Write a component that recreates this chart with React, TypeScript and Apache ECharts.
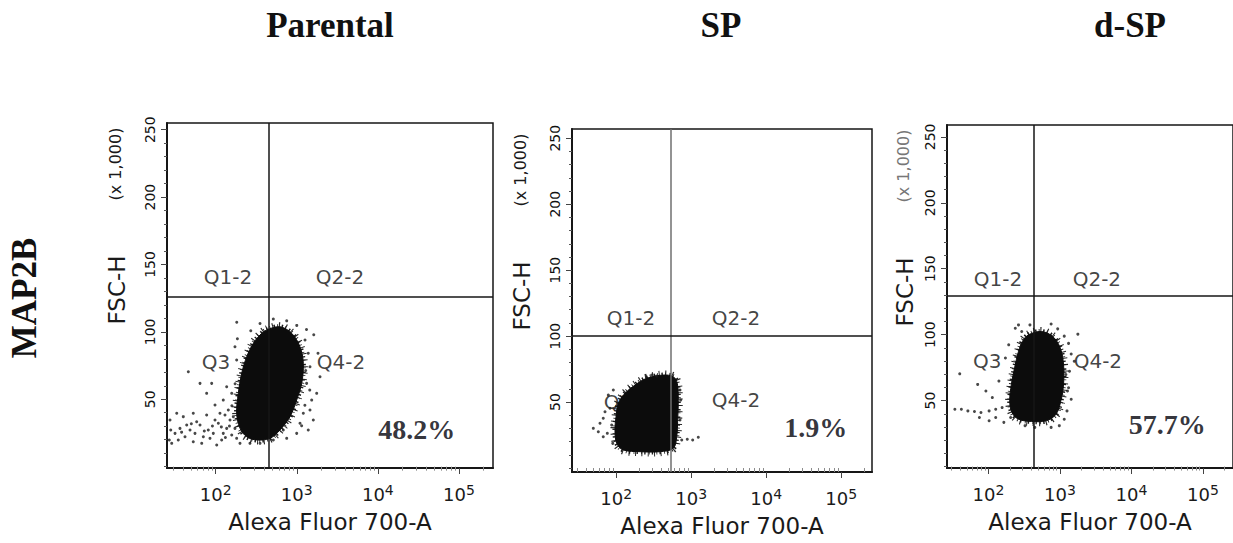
import React, { useEffect, useRef } from 'react';
import * as echarts from 'echarts';

// ---------- texts ----------
const panelTitles = ['Parental', 'SP', 'd-SP'];
const rowLabel = 'MAP2B';
const xAxisTitle = 'Alexa Fluor 700-A';
const yAxisTitle = 'FSC-H';
const yAxisUnit = '(x 1,000)';
const percentLabels = ['48.2%', '1.9%', '57.7%'];

// ---------- axes (x in log10 units of Alexa Fluor 700-A, y = FSC-H x 1,000) ----------
const xDecadeTicks = [2, 3, 4, 5];
const yMajorTicks = [50, 100, 150, 200, 250];
const yMinorTicks = [0, 10, 20, 30, 40, 60, 70, 80, 90, 110, 120, 130, 140, 160, 170, 180, 190, 210, 220, 230, 240];
const xRanges = [[1.4, 5.42], [1.41, 5.41], [1.42, 5.42]];
const yRanges = [[-1, 255], [-3, 257], [-1.1, 259]];

// ---------- gates ----------
const gateX = [2.645, 2.73, 2.639];
const gateY = [125.9, 100, 129.7];

// ---------- quadrant label positions ----------
const quadrantP1 = [
  { name: 'Q1-2', value: [2.152, 140.7] },
  { name: 'Q2-2', value: [3.533, 140.7] },
  { name: 'Q3', value: [2.004, 77.6] },
  { name: 'Q4-2', value: [3.545, 77.6] },
];
const quadrantP2 = [
  { name: 'Q1-2', value: [2.197, 113.7] },
  { name: 'Q2-2', value: [3.597, 113.7] },
  { name: 'Q3', value: [2.023, 50] },
  { name: 'Q4-2', value: [3.597, 51.5] },
];
const quadrantP3 = [
  { name: 'Q1-2', value: [2.132, 142.5] },
  { name: 'Q2-2', value: [3.516, 142.5] },
  { name: 'Q3', value: [1.982, 80] },
  { name: 'Q4-2', value: [3.53, 80] },
];
const percentPos = [[4.48, 27.2], [4.66, 31.1], [4.5, 32]];

// ---------- dense population outlines ----------
const blobP1 = [
  [2.63, 101.4], [2.793, 103.8], [2.938, 98.9], [3.04, 89], [3.081, 76.7], [3.061, 61.8],
  [2.999, 49.4], [2.917, 37.1], [2.793, 27.2], [2.67, 21], [2.506, 19.8], [2.383, 22.2],
  [2.3, 28.5], [2.259, 39.6], [2.279, 54.4], [2.321, 69.3], [2.383, 81.6], [2.464, 91.5], [2.547, 97.7],
];
const blobP2 = [
  [2.406, 68], [2.627, 70.5], [2.761, 69.2], [2.814, 64.2], [2.827, 51.5], [2.819, 36.4],
  [2.806, 23.7], [2.761, 15], [2.583, 12.4], [2.317, 12.4], [2.094, 13.7], [2.006, 18.7],
  [1.983, 28.8], [1.997, 38.9], [2.027, 49], [2.117, 56.6], [2.25, 62.9],
];
const blobP3 = [
  [2.557, 99.8], [2.739, 102.4], [2.899, 98.6], [3.005, 89.8], [3.05, 77.3], [3.05, 62.3],
  [3.013, 49.8], [2.945, 39.7], [2.808, 34.7], [2.602, 34.2], [2.42, 35.9], [2.328, 41],
  [2.297, 49.8], [2.32, 62.3], [2.365, 74.8], [2.42, 87.4], [2.475, 94.9],
];

// ---------- sparse events ----------
const dotsP1 = [
  [1.437, 34.6], [1.446, 27.2], [1.428, 19.8], [1.499, 24.7], [1.56, 28.4], [1.622, 22.2], [1.684, 27.2],
  [1.745, 24.7], [1.807, 30.9], [1.848, 22.2], [1.909, 27.2], [1.971, 24.7], [2.033, 32.2], [2.074, 19.8],
  [2.136, 28.4], [2.198, 23.5], [2.218, 37.1], [2.156, 42], [2.053, 39.6], [1.992, 45.7], [1.889, 54.4],
  [1.951, 61.8], [1.807, 61.8], [1.663, 70.4], [1.724, 39.6], [1.601, 37.1], [1.52, 39.6], [1.828, 17.3],
  [2.013, 16.1], [2.3, 17.3], [2.423, 17.3], [2.547, 17.3], [2.711, 19.8], [2.876, 21], [3.04, 32.2],
  [3.163, 42], [3.246, 54.4], [3.287, 66.7], [3.262, 84.1], [3.21, 97.9], [3.12, 101.8], [3.0, 104.8],
  [2.876, 108.2], [2.711, 109.5], [2.547, 106.2], [2.433, 100.8], [2.26, 107.2], [2.268, 94.9], [2.238, 89],
  [2.259, 79.1], [3.163, 74.1], [3.204, 34.6], [2.834, 27.2], [3.102, 94], [3.142, 84.1], [3.122, 61.8],
  [3.184, 49.4], [3.081, 39.6], [3.142, 27.2], [2.999, 24.7], [2.136, 59.3], [2.094, 49.4], [2.198, 54.4],
  [1.643, 30.9], [1.766, 33.3], [1.93, 21], [2.094, 24.7], [2.238, 28.4], [2.177, 34.6], [2.115, 38.3],
  [1.992, 34.6], [1.889, 38.3], [2.259, 21], [1.458, 17.3], [1.539, 19.8], [1.724, 18.5],
  [2.2, 45.2], [2.17, 30.1], [2.07, 29.5], [1.96, 30.2], [1.86, 26.4], [1.7, 31.8], [1.58, 25.6],
  [2.12, 21.6], [2.24, 61.5], [3.11, 71.3], [3.16, 56.8], [3.1, 45.6], [3.06, 30.4],
];
const dotsP2 = [
  [1.694, 30.1], [1.783, 33.9], [1.827, 37.7], [1.881, 26.3], [1.917, 45.3], [1.894, 55.3], [1.761, 27.5],
  [1.953, 18.7], [1.961, 59.1], [2.873, 21.2], [2.947, 21.8], [3.019, 21.2], [3.094, 23.3], [2.85, 36.4],
  [2.859, 51.5], [2.85, 59.1], [2.473, 70.5], [2.539, 69.7], [1.827, 23.7], [1.939, 32.6], [1.85, 42.7],
];
const dotsP3 = [
  [1.53, 43.5], [1.621, 43.5], [1.712, 42.2], [1.804, 41.7], [1.895, 41], [2.009, 42.2], [2.101, 43.5],
  [2.191, 44.7], [1.598, 70.3], [1.849, 62.3], [1.964, 57.3], [2.054, 52.3], [2.101, 37.2], [2.215, 33.5],
  [1.873, 37.2], [2.009, 34.7], [2.146, 64.8], [2.237, 82.3], [2.283, 92.3], [2.375, 104.9], [2.42, 107.4],
  [2.876, 108.1], [2.968, 104.4], [3.06, 98.9], [3.12, 93.4], [3.157, 85.4], [3.133, 72.3], [3.12, 59.8],
  [3.157, 51], [3.098, 42.2], [3.06, 35.9], [2.991, 31], [2.876, 29.7], [2.648, 29.7], [3.2, 79.8],
  [3.25, 100.4], [2.465, 102.4], [2.58, 107.4], [3.083, 69.8], [3.105, 57.3], [2.31, 37.2], [2.512, 31],
];

const quadrants = [quadrantP1, quadrantP2, quadrantP3];
const blobs = [blobP1, blobP2, blobP3];
const dots = [dotsP1, dotsP2, dotsP3];

// ---------- layout ----------
const GRIDS = [
  { left: 167, top: 123, width: 326, height: 345 },
  { left: 572, top: 129, width: 300, height: 343 },
  { left: 947, top: 125, width: 292, height: 343 },
];
const TITLE_X = [330, 721, 1130];
const SANS = 'DejaVu Sans';
const SERIF = 'Liberation Serif';
const INK = '#161616';

function minorLogTicks(min: number, max: number) {
  const out: number[] = [];
  for (let n = 1; n <= 5; n++) {
    for (let k = 2; k <= 9; k++) {
      const v = n + Math.log10(k);
      if (v > min && v < max) out.push(v);
    }
  }
  return out;
}

function buildOption() {
  const grid: any[] = [];
  const xAxis: any[] = [];
  const yAxis: any[] = [];
  const series: any[] = [];
  const graphic: any[] = [];

  for (let i = 0; i < 3; i++) {
    const g = GRIDS[i];
    grid.push({ ...g, show: true, borderColor: INK, borderWidth: 1.5, backgroundColor: 'transparent' });
    const [xmin, xmax] = xRanges[i];
    const [ymin, ymax] = yRanges[i];
    xAxis.push({
      gridIndex: i, type: 'value', position: 'bottom', min: xmin, max: xmax,
      axisLine: { show: true, onZero: false, lineStyle: { color: INK, width: 2 } },
      axisTick: { show: true, customValues: xDecadeTicks, length: 6, lineStyle: { color: '#444', width: 1 } },
      axisLabel: {
        show: true, customValues: xDecadeTicks, margin: 15,
        formatter: (v: number) => `{b|10}{s|${Math.round(v)}}`,
        rich: {
          b: { fontSize: 18, lineHeight: 22, fontFamily: SANS, color: '#1a1a1a' },
          s: { fontSize: 14, lineHeight: 8, verticalAlign: 'top', fontFamily: SANS, color: '#1a1a1a' },
        },
      },
      splitLine: { show: false },
      name: xAxisTitle, nameLocation: 'middle', nameGap: 42,
      nameTextStyle: { fontSize: 23, fontFamily: SANS, color: '#1a1a1a' },
    });
    xAxis.push({
      gridIndex: i, type: 'value', position: 'bottom', min: xmin, max: xmax,
      axisLine: { show: false },
      axisTick: { show: true, customValues: minorLogTicks(xmin, xmax), length: 4, lineStyle: { color: '#8a8a8a', width: 1 } },
      axisLabel: { show: false }, splitLine: { show: false },
    });
    yAxis.push({
      gridIndex: i, type: 'value', position: 'left', min: ymin, max: ymax,
      axisLine: { show: true, onZero: false, lineStyle: { color: INK, width: 2 } },
      axisTick: { show: true, customValues: yMajorTicks, length: 6, lineStyle: { color: '#444', width: 1 } },
      axisLabel: { show: true, customValues: yMajorTicks, rotate: 90, margin: 10, fontSize: 14, fontFamily: SANS, color: '#111' },
      splitLine: { show: false },
    });
    yAxis.push({
      gridIndex: i, type: 'value', position: 'left', min: ymin, max: ymax,
      axisLine: { show: false },
      axisTick: { show: true, customValues: yMinorTicks, length: 3, lineStyle: { color: '#555', width: 1 } },
      axisLabel: { show: false }, splitLine: { show: false },
    });

    const xi = i * 2;
    const yi = i * 2;
    // quadrant names + gates
    series.push({
      type: 'scatter', xAxisIndex: xi, yAxisIndex: yi, z: 1, silent: true,
      symbolSize: 0,
      data: quadrants[i],
      label: {
        show: true, position: [0, 0], align: 'center', verticalAlign: 'middle',
        formatter: '{b}', fontSize: 20, fontFamily: SANS, color: '#111',
      },
      markLine: {
        silent: true, symbol: 'none', label: { show: false },
        data: [
          { xAxis: gateX[i], lineStyle: { color: i === 1 ? '#6f6f6f' : INK, width: 1.5, type: 'solid' } },
          { yAxis: gateY[i], lineStyle: { color: INK, width: 1.5, type: 'solid' } },
        ],
      },
    });
    // dense population
    const blob = blobs[i];
    series.push({
      type: 'custom', xAxisIndex: xi, yAxisIndex: yi, z: 2, silent: true, clip: true,
      encode: { x: 0, y: 1 },
      data: blob,
      renderItem: (params: any, api: any) => {
        if (params.dataIndex !== 0) return null;
        const pts = blob.map((p) => api.coord(p));
        return {
          type: 'group',
          children: [
            {
              type: 'polygon',
              shape: { points: pts, smooth: 0.35 },
              style: { fill: 'none', stroke: '#2a2a2a', lineWidth: 9, lineDash: [1, 5.3] },
            },
            {
              type: 'polygon',
              shape: { points: pts, smooth: 0.35 },
              style: { fill: 'none', stroke: '#1a1a1a', lineWidth: 5, lineDash: [1.4, 2.1, 0.8, 3.3] },
            },
            {
              type: 'polygon',
              shape: { points: pts, smooth: 0.35 },
              style: { fill: '#0c0c0c', stroke: '#0c0c0c', lineWidth: 1 },
            },
          ],
        };
      },
    });
    // sparse events
    series.push({
      type: 'scatter', xAxisIndex: xi, yAxisIndex: yi, z: 3, silent: true,
      symbol: 'circle', symbolSize: 3,
      itemStyle: { color: '#1a1a1a' },
      data: dots[i],
    });
    // percentage
    series.push({
      type: 'scatter', xAxisIndex: xi, yAxisIndex: yi, z: 4, silent: true,
      symbolSize: 0,
      data: [{ name: percentLabels[i], value: percentPos[i] }],
      label: {
        show: true, position: [0, 0], align: 'center', verticalAlign: 'middle',
        formatter: '{b}', fontSize: 28, fontWeight: 'bold', fontFamily: SERIF, color: '#000008',
      },
    });

    // titles & y axis name
    graphic.push({
      type: 'text', x: TITLE_X[i], y: 25, silent: true,
      style: { text: panelTitles[i], font: `bold 35px "${SERIF}"`, fill: '#111', align: 'center', verticalAlign: 'middle' },
    });
    graphic.push({
      type: 'text', x: g.left - (i === 2 ? 42 : 50), y: g.top + 167, rotation: Math.PI / 2, silent: true,
      style: { text: yAxisTitle, font: `23px "${SANS}"`, fill: '#1a1a1a', align: 'center', verticalAlign: 'middle' },
    });
    graphic.push({
      type: 'text', x: g.left - (i === 2 ? 44 : 52), y: g.top + 41, rotation: Math.PI / 2, silent: true,
      style: { text: yAxisUnit, font: `16px "${SANS}"`, fill: i === 2 ? '#777' : '#1a1a1a', align: 'center', verticalAlign: 'middle' },
    });
  }

  graphic.push({
    type: 'text', x: 24, y: 298, rotation: Math.PI / 2, silent: true,
    style: { text: rowLabel, font: `bold 35px "${SERIF}"`, fill: '#111', align: 'center', verticalAlign: 'middle' },
  });

  return {
    animation: false,
    backgroundColor: '#ffffff',
    textStyle: { fontFamily: SANS },
    grid, xAxis, yAxis, series, graphic,
  };
}

export default function App() {
  const ref = useRef<HTMLDivElement>(null);
  useEffect(() => {
    if (!ref.current) return;
    const chart = echarts.init(ref.current, undefined, { renderer: 'svg' });
    chart.setOption(buildOption() as any);
    return () => chart.dispose();
  }, []);
  return (
    <div
      ref={ref}
      style={{ position: 'absolute', left: 0, top: 0, width: 1233, height: 543, overflow: 'hidden' }}
    />
  );
}
